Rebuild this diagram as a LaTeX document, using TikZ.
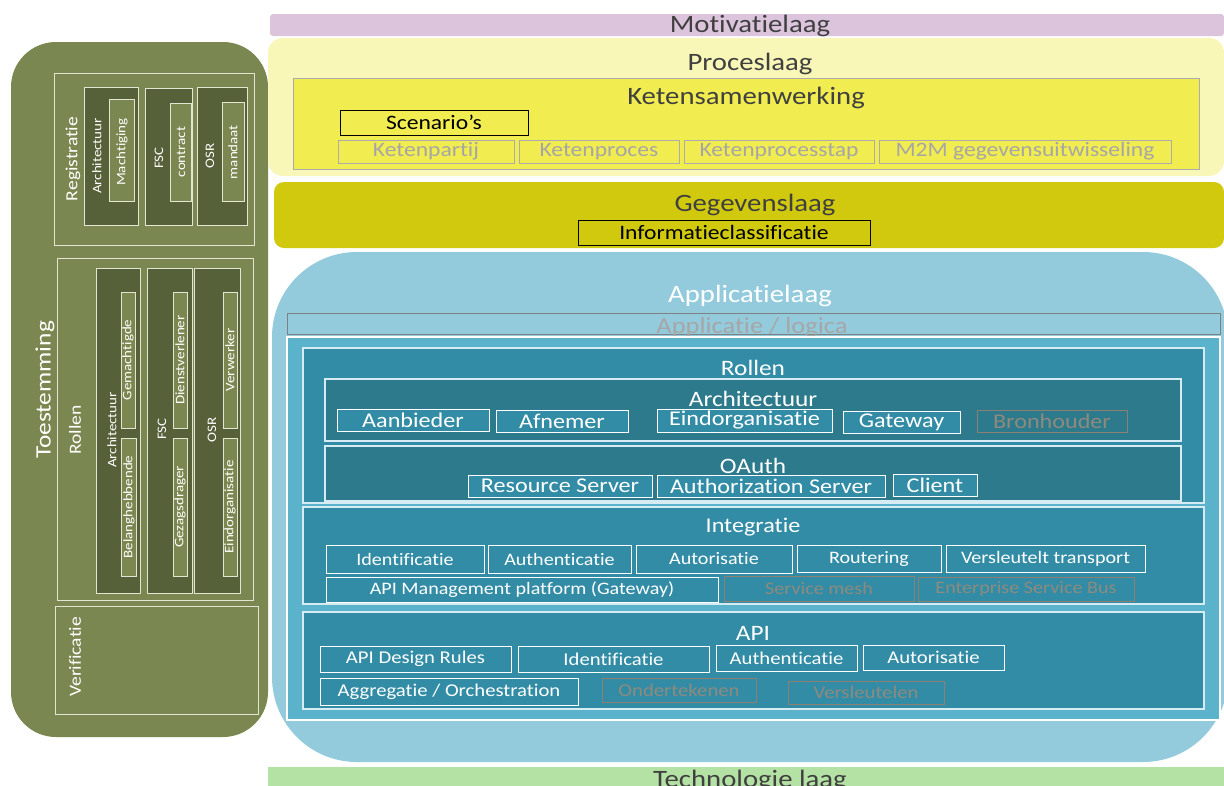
\documentclass[tikz,border=0pt]{standalone}
\usepackage{fontspec}
\setmainfont{Carlito}[FakeStretch=1.15, Ligatures=NoCommon]
\definecolor{motiv}{HTML}{DCC4DC}
\definecolor{proc}{HTML}{F8F7B8}
\definecolor{keten}{HTML}{F1EC50}
\definecolor{geg}{HTML}{D0C90E}
\definecolor{applight}{HTML}{93CBDD}
\definecolor{appmid}{HTML}{5BB3CB}
\definecolor{appbox}{HTML}{338CA5}
\definecolor{appdark}{HTML}{2C7A8C}
\definecolor{appline}{HTML}{D6ECF2}
\definecolor{techgreen}{HTML}{B4E2A4}
\definecolor{olive}{HTML}{7B8751}
\definecolor{olivedark}{HTML}{566039}
\definecolor{oliveline}{HTML}{E2E5D2}
\definecolor{greyline}{HTML}{ABABAB}
\definecolor{greytext}{HTML}{A6A6A6}
\definecolor{brownline}{HTML}{8E8070}
\definecolor{browntext}{HTML}{8E8A7E}
\definecolor{headtext}{HTML}{404040}
\newcommand\fs[1]{\fontsize{#1}{#1}\selectfont}
\newcommand\bx[7]{\node[#6, anchor=north west, inner sep=0pt, outer sep=0pt,
  minimum width={(#4-#2)*1pt}, minimum height={(#5-#3)*1pt}] (#1) at (#2,#3) {#7};}
\begin{document}
\begin{tikzpicture}[x=1pt,y=-1pt,
  headlbl/.style={text=headtext, font=\fs{25}},
  keyitem/.style={draw=black, line width=1pt, fill=keten, text=black, font=\fs{20.5}},
  greyitem/.style={draw=greyline, line width=1pt, text=greytext, font=\fs{20.5}},
  appcont/.style={draw=appline, line width=1.2pt, fill=appbox},
  appdk/.style={draw=appline, line width=1.2pt, fill=appdark},
  architem/.style={draw=white, line width=1pt, fill=appbox, text=white, font=\fs{21}},
  architemoff/.style={draw=brownline, line width=1pt, text=browntext, font=\fs{21}},
  intitem/.style={draw=white, line width=1pt, fill=appbox, text=white, font=\fs{17.5}},
  intitemoff/.style={draw=brownline, line width=1pt, text=browntext, font=\fs{17.5}},
  whitelbl/.style={text=white, font=\fs{22}},
  olivebox/.style={draw=oliveline, line width=1pt},
  darkcol/.style={draw=oliveline, line width=1pt, fill=olivedark},
  lightcol/.style={draw=oliveline, line width=1pt, fill=olive},
  rotlbl/.style={rotate=90, text=white, font=\fs{13}},
  bigrot/.style={rotate=90, text=white, font=\fs{17}}
]
\useasboundingbox (0,0) rectangle (1224,785);
\fill[white] (0,0) rectangle (1224,785);
\begin{scope}
\clip (0,0) rectangle (1224,785);

% ---------- Toestemming panel ----------
\node[fill=olive, anchor=north west, inner sep=0pt, outer sep=0pt, rounded corners=45pt,
  minimum width=257pt, minimum height=695pt] (toe) at (11,42) {};
\node[rotate=90, text=white, font=\fs{22}] (toelbl) at (45,390) {Toestemming};

% Registratie
\bx{reg}{54}{73}{254}{245}{olivebox}{}
\node[bigrot] (reglbl) at (73,159) {Registratie};
\bx{regA}{84}{87}{138}{225}{darkcol}{}
\bx{regAi}{109}{99}{134}{201}{lightcol}{}
\bx{regF}{145}{88}{192}{225}{darkcol}{}
\bx{regFi}{170}{103}{191}{201}{lightcol}{}
\bx{regO}{197}{87}{247}{225}{darkcol}{}
\bx{regOi}{222}{102}{244}{201}{lightcol}{}
\node[rotlbl] (regAl) at (97,156) {Architectuur};
\node[rotlbl] (regAil) at (122,152) {Machtiging};
\node[rotlbl] (regFl) at (159,158) {FSC};
\node[rotlbl] (regFil) at (181,152) {contract};
\node[rotlbl] (regOl) at (210,156) {OSR};
\node[rotlbl] (regOil) at (233,152) {mandaat};

% Rollen
\bx{rol}{57}{258}{253}{600}{olivebox}{}
\node[bigrot] (rollbl) at (75,430) {Rollen};
\bx{rolA}{96}{268}{140}{593}{darkcol}{}
\bx{rolA1}{121}{292}{135}{428}{lightcol}{}
\bx{rolA2}{121}{438}{136}{576}{lightcol}{}
\bx{rolF}{147}{268}{192}{593}{darkcol}{}
\bx{rolF1}{173}{292}{187}{428}{lightcol}{}
\bx{rolF2}{173}{438}{187}{576}{lightcol}{}
\bx{rolO}{194}{268}{240}{593}{darkcol}{}
\bx{rolO1}{223}{292}{237}{428}{lightcol}{}
\bx{rolO2}{223}{438}{237}{576}{lightcol}{}
\node[rotlbl] (rolAl) at (112,430) {Architectuur};
\node[rotlbl] (rolA1l) at (128,360) {Gemachtigde};
\node[rotlbl] (rolA2l) at (129,507) {Belanghebbende};
\node[rotlbl] (rolFl) at (162,429) {FSC};
\node[rotlbl] (rolF1l) at (180,360) {Dienstverlener};
\node[rotlbl] (rolF2l) at (180,507) {Gezagsdrager};
\node[rotlbl] (rolOl) at (212,430) {OSR};
\node[rotlbl] (rolO1l) at (230,360) {Verwerker};
\node[rotlbl] (rolO2l) at (230,507) {Eindorganisatie};

% Verificatie
\bx{ver}{55}{606}{258}{714}{olivebox}{}
\node[bigrot] (verlbl) at (75,657) {Verificatie};

% ---------- Motivatielaag ----------
\bx{mot}{270}{14}{1224}{36}{fill=motiv, rounded corners=3pt}{}
\node[headlbl] (motlbl) at (750,26) {Motivatielaag};

% ---------- Proceslaag ----------
\bx{proc}{268}{38}{1224}{176}{fill=proc, rounded corners=15pt}{}
\node[headlbl] (proclbl) at (750,64) {Proceslaag};
\bx{ket}{293}{78}{1199}{169}{fill=keten, draw=greyline, line width=1pt}{}
\node[headlbl] (ketlbl) at (746,98) {Ketensamenwerking};
\bx{scen}{340}{110}{528}{135}{keyitem}{Scenario’s}
\bx{kp}{338}{140}{514}{163}{greyitem}{Ketenpartij}
\bx{kpr}{519}{140}{679}{163}{greyitem}{Ketenproces}
\bx{kps}{684}{140}{874}{163}{greyitem}{Ketenprocesstap}
\bx{m2m}{879}{140}{1171}{163}{greyitem}{M2M gegevensuitwisseling}

% ---------- Gegevenslaag ----------
\bx{geg}{274}{182}{1224}{248}{fill=geg, rounded corners=10pt}{}
\node[headlbl] (geglbl) at (755,205) {Gegevenslaag};
\bx{info}{578}{220}{870}{245}{keyitem, fill=geg}{Informatieclassificatie}

% ---------- Applicatielaag ----------
\bx{app}{272}{252}{1228}{762}{fill=applight, rounded corners=85pt}{}
\node[text=white, font=\fs{25}] (applbl) at (750,296) {Applicatielaag};
\bx{logica}{287}{313}{1220}{334}{draw=gray, line width=1pt}{}
\node[text=greytext, font=\fs{23}] (logicalbl) at (752,327) {Applicatie / logica};
\bx{inner}{287}{337}{1220}{720}{fill=appmid, draw=white, line width=1.5pt}{}

% Rollen
\bx{arol}{303}{348}{1204}{503}{appcont}{}
\node[whitelbl] (arollbl) at (753,368) {Rollen};
\bx{arch}{325}{379}{1181}{441}{appdk}{}
\node[whitelbl] (archlbl) at (753,399) {Architectuur};
\bx{aanb}{337}{409}{489}{431}{architem}{Aanbieder}
\bx{afn}{496}{410}{628}{432}{architem}{Afnemer}
\bx{eind}{657}{409}{832}{432}{architem}{Eindorganisatie}
\bx{gw}{843}{411}{960}{433}{architem}{Gateway}
\bx{bron}{977}{410}{1127}{432}{architemoff}{Bronhouder}
\bx{oauth}{325}{446}{1181}{501}{appdk}{}
\node[whitelbl] (oauthlbl) at (753,466) {OAuth};
\bx{rs}{468}{475}{652}{497}{architem}{Resource Server}
\bx{as}{657}{475}{885}{497}{architem}{Authorization Server}
\bx{cl}{893}{474}{977}{496}{architem}{Client}

% Integratie
\bx{integ}{303}{507}{1204}{604}{appcont}{}
\node[whitelbl, font=\fs{21}] (integlbl) at (753,527) {Integratie};
\bx{iid}{326}{545}{484}{573}{intitem}{Identificatie}
\bx{iau}{488}{545}{631}{573}{intitem}{Authenticatie}
\bx{iaz}{636}{545}{792}{573}{intitem}{Autorisatie}
\bx{irt}{797}{545}{941}{572}{intitem}{Routering}
\bx{ivt}{946}{545}{1145}{572}{intitem}{Versleutelt transport}
\bx{iapi}{326}{577}{718}{602}{intitem}{API Management platform (Gateway)}
\bx{ism}{724}{576}{914}{601}{intitemoff}{Service mesh}
\bx{iesb}{918}{577}{1134}{601}{intitemoff}{Enterprise Service Bus}

% API
\bx{api}{303}{612}{1204}{709}{appcont}{}
\node[whitelbl] (apilbl) at (753,633) {API};
\bx{adr}{320}{646}{511}{672}{intitem, font=\fs{18}}{API Design Rules}
\bx{aid}{518}{646}{709}{672}{intitem, font=\fs{18}}{Identificatie}
\bx{aau}{716}{645}{857}{671}{intitem, font=\fs{18}}{Authenticatie}
\bx{aaz}{863}{645}{1004}{670}{intitem, font=\fs{18}}{Autorisatie}
\bx{aggr}{320}{678}{578}{705}{intitem, font=\fs{18}}{Aggregatie / Orchestration}
\bx{ond}{602}{678}{756}{702}{intitemoff, font=\fs{18}}{Ondertekenen}
\bx{vsl}{788}{681}{944}{704}{intitemoff, font=\fs{18}}{Versleutelen}

% ---------- Technologie laag ----------
\bx{tech}{268}{767}{1224}{800}{fill=techgreen}{}
\node[anchor=base, text=headtext, font=\fs{25}] (techlbl) at (750,787) {Technologie laag};
\end{scope}
\end{tikzpicture}
\end{document}
